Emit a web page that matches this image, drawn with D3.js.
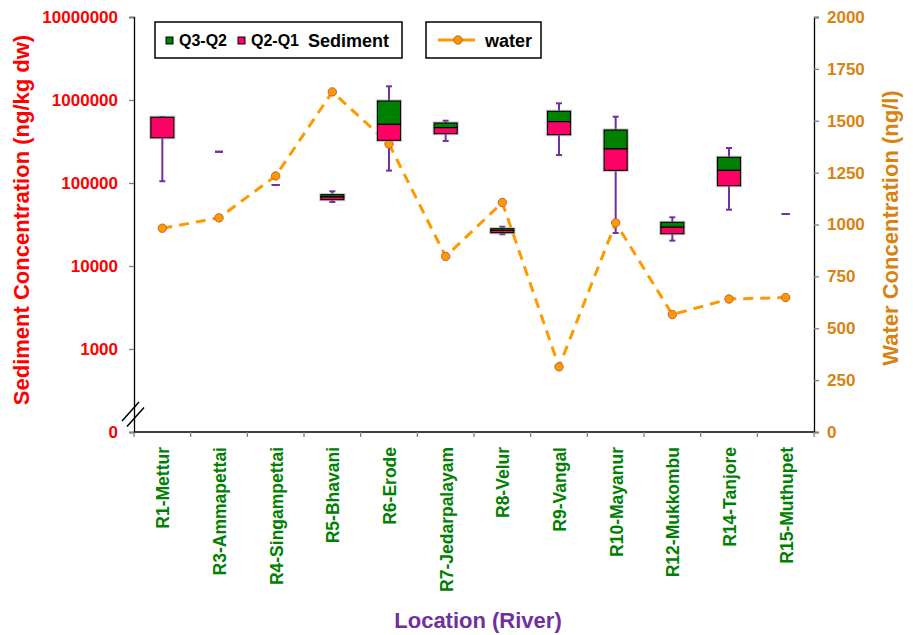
<!DOCTYPE html>
<html>
<head>
<meta charset="utf-8">
<script src="https://cdn.jsdelivr.net/npm/d3@7/dist/d3.min.js"></script>
<style>
  html, body { margin: 0; padding: 0; background: #fff; }
  svg { display: block; font-family: "Liberation Sans", Arial, Helvetica, sans-serif; font-weight: bold; }
</style>
</head>
<body>
<svg id="chart" width="913" height="635"></svg>
<script>
// Sampling sites along the river
const sites = ["R1-Mettur", "R3-Ammapettai", "R4-Singampettai", "R5-Bhavani", "R6-Erode",
  "R7-Jedarpalayam", "R8-Velur", "R9-Vangal", "R10-Mayanur", "R12-Mukkombu", "R14-Tanjore", "R15-Muthupet"];

// Sediment concentrations (ng/kg dw): whisker ends and quartiles
const sedMin    = [105000, 238000,  94600, 59000, 141000, 321000, 24100, 217000,  25000, 20200,  47700, 42300];
const sedQ1     = [351000, 238000,  94600, 63000, 327000, 393000, 25200, 382000, 142000, 24500,  92800, 42300];
const sedMedian = [620000, 238000,  94600, 67800, 509000, 464000, 26800, 548000, 257000, 29300, 142000, 42300];
const sedQ3     = [620000, 238000,  94600, 72300, 973000, 528000, 28100, 731000, 435000, 33600, 204000, 42300];
const sedMax    = [620000, 238000,  94600, 79400, 1462000, 563000, 29700, 912000, 629000, 38600, 264000, 42300];

// Water concentrations (ng/l)
const water = [982, 1032, 1234, 1639, 1388, 846, 1106, 314, 1008, 566, 641, 648];

// Axis tick values
const sedTicks = [100, 1000, 10000, 100000, 1000000, 10000000];
const waterTicks = [0, 250, 500, 750, 1000, 1250, 1500, 1750, 2000];

const C = {
  green: "#008000", pink: "#ff0066", whisker: "#7030a0", water: "#ff9900",
  marker: "#c8603a", red: "#ff0000", amber: "#d98210", purple: "#7030a0", grey: "#808080"
};

const svg = d3.select("#chart");
const plotL = 134, plotR = 814, plotT = 17, plotB = 432;

const x = d3.scaleBand().domain(sites).range([plotL, plotR]).paddingInner(0).paddingOuter(0);
const ySed = d3.scaleLog().domain([100, 1e7]).range([plotB, plotT]);
const yWat = d3.scaleLinear().domain([0, 2000]).range([plotB, plotT]);
const cx = s => x(s) + x.bandwidth() / 2;

// Left (log) axis; the lowest tick stands for zero across the axis break
const gL = svg.append("g").attr("transform", `translate(${plotL},0)`)
  .call(d3.axisLeft(ySed).tickValues(sedTicks).tickSizeOuter(0).tickSize(5).tickPadding(11)
    .tickFormat(v => v === 100 ? "0" : d3.format("d")(v)));
gL.select(".domain").attr("stroke", "#000").attr("stroke-width", 1.3);
gL.selectAll(".tick line").attr("stroke", C.grey).attr("stroke-width", 1.3);
gL.selectAll(".tick text").attr("fill", C.red).style("font-size", "17px").style("font-weight", "bold")
  .style("font-family", "'Liberation Sans', Arial, sans-serif");

// Right (linear) axis
const gR = svg.append("g").attr("transform", `translate(${plotR},0)`)
  .call(d3.axisRight(yWat).tickValues(waterTicks).tickSizeOuter(0).tickSize(5).tickPadding(8)
    .tickFormat(d3.format("d")));
gR.select(".domain").attr("stroke", "#000").attr("stroke-width", 1.3);
gR.selectAll(".tick line").attr("stroke", C.grey).attr("stroke-width", 1.3);
gR.selectAll(".tick text").attr("fill", C.amber).style("font-size", "17px").style("font-weight", "bold")
  .style("font-family", "'Liberation Sans', Arial, sans-serif");

// Category axis: ticks on band boundaries, labels rotated
const gX = svg.append("g").attr("transform", `translate(0,${plotB})`);
gX.append("line").attr("x1", plotL).attr("x2", plotR).attr("y1", 0).attr("y2", 0)
  .attr("stroke", "#000").attr("stroke-width", 1.3);
const bounds = sites.map(s => x(s)).concat([plotR]);
gX.selectAll("line.tk").data(bounds).join("line").attr("class", "tk")
  .attr("x1", d => d).attr("x2", d => d).attr("y1", 0).attr("y2", 5)
  .attr("stroke", C.grey).attr("stroke-width", 1.3);
gX.selectAll("text.lab").data(sites).join("text").attr("class", "lab")
  .attr("transform", d => `translate(${cx(d) + 7},15) rotate(-90)`)
  .attr("text-anchor", "end")
  .attr("fill", C.green).style("font-size", "17.5px")
  .text(d => d);

// Axis break marks
[[0, 0], [5, 5.5]].forEach(([dx, dy]) => {
  svg.append("line")
    .attr("x1", plotL - 12 + dx).attr("y1", 421 + dy)
    .attr("x2", plotL + 5 + dx).attr("y2", 402 + dy)
    .attr("stroke", "#000").attr("stroke-width", 1.5);
});

// Whiskers
const bw = 23, cap = 6;
const wg = svg.append("g");
sites.forEach((s, i) => {
  const c = cx(s);
  const single = sedMin[i] === sedMax[i];
  wg.append("line").attr("x1", c).attr("x2", c)
    .attr("y1", ySed(sedMax[i])).attr("y2", ySed(sedMin[i]))
    .attr("stroke", C.whisker).attr("stroke-width", 2);
  [sedMin[i], sedMax[i]].forEach(v => {
    wg.append("line").attr("x1", c - cap / 2 - (single ? 1 : 0))
      .attr("x2", c + cap / 2 + (single ? 1 : 0))
      .attr("y1", ySed(v)).attr("y2", ySed(v))
      .attr("stroke", C.whisker).attr("stroke-width", 2);
  });
});

// Water line with markers
const line = d3.line().x((d, i) => cx(sites[i])).y(d => yWat(d));
svg.append("path").datum(water).attr("d", line)
  .attr("fill", "none").attr("stroke", C.water).attr("stroke-width", 3)
  .attr("stroke-dasharray", "10,7");
svg.append("g").selectAll("circle").data(water).join("circle")
  .attr("cx", (d, i) => cx(sites[i])).attr("cy", d => yWat(d)).attr("r", 4.2)
  .attr("fill", C.water).attr("stroke", C.marker).attr("stroke-width", 1);

// Boxes: lower part Q1–median, upper part median–Q3
const bg = svg.append("g");
sites.forEach((s, i) => {
  const yq3 = ySed(sedQ3[i]), yq2 = ySed(sedMedian[i]), yq1 = ySed(sedQ1[i]);
  if (yq1 - yq3 < 0.5) return;
  const x0 = cx(s) - bw / 2;
  bg.append("rect").attr("x", x0).attr("y", yq3).attr("width", bw).attr("height", yq1 - yq3)
    .attr("fill", "none").attr("stroke", "#9a9a9a").attr("stroke-width", 3.2).attr("opacity", 0.55);
  if (yq2 - yq3 > 0) {
    bg.append("rect").attr("x", x0).attr("y", yq3).attr("width", bw).attr("height", yq2 - yq3)
      .attr("fill", C.green).attr("stroke", "#000").attr("stroke-width", 1.1);
  }
  bg.append("rect").attr("x", x0).attr("y", yq2).attr("width", bw).attr("height", yq1 - yq2)
    .attr("fill", C.pink).attr("stroke", "#000").attr("stroke-width", 1.1);
});

// Axis titles
svg.append("text").attr("transform", "translate(29,220) rotate(-90)")
  .attr("text-anchor", "middle").attr("fill", C.red).style("font-size", "22px")
  .text("Sediment Concentration (ng/kg dw)");
svg.append("text").attr("transform", "translate(898,228) rotate(-90)")
  .attr("text-anchor", "middle").attr("fill", C.amber).style("font-size", "22px")
  .text("Water Concentration (ng/l)");
svg.append("text").attr("x", 478).attr("y", 628)
  .attr("text-anchor", "middle").attr("fill", C.purple).style("font-size", "22px")
  .text("Location (River)");

// Legend: sediment quartile parts
const lg1 = svg.append("g");
lg1.append("rect").attr("x", 155).attr("y", 22).attr("width", 247).attr("height", 36)
  .attr("fill", "#fff").attr("stroke", "#000").attr("stroke-width", 1.5);
lg1.append("rect").attr("x", 166).attr("y", 37).attr("width", 7).attr("height", 7)
  .attr("fill", C.green).attr("stroke", "#000").attr("stroke-width", 1);
lg1.append("text").attr("x", 179).attr("y", 46).style("font-size", "16px").text("Q3-Q2");
lg1.append("rect").attr("x", 238).attr("y", 37).attr("width", 7).attr("height", 7)
  .attr("fill", C.pink).attr("stroke", "#000").attr("stroke-width", 1);
lg1.append("text").attr("x", 251).attr("y", 46).style("font-size", "16px").text("Q2-Q1");
lg1.append("text").attr("x", 308).attr("y", 47).style("font-size", "18px").text("Sediment");

// Legend: water series
const lg2 = svg.append("g");
lg2.append("rect").attr("x", 426).attr("y", 22).attr("width", 115).attr("height", 36)
  .attr("fill", "#fff").attr("stroke", "#000").attr("stroke-width", 1.5);
lg2.append("line").attr("x1", 438).attr("x2", 475).attr("y1", 40).attr("y2", 40)
  .attr("stroke", C.water).attr("stroke-width", 3);
lg2.append("circle").attr("cx", 458).attr("cy", 40).attr("r", 4.2)
  .attr("fill", C.water).attr("stroke", C.marker).attr("stroke-width", 1);
lg2.append("text").attr("x", 485).attr("y", 47).style("font-size", "18px").text("water");
</script>
</body>
</html>
